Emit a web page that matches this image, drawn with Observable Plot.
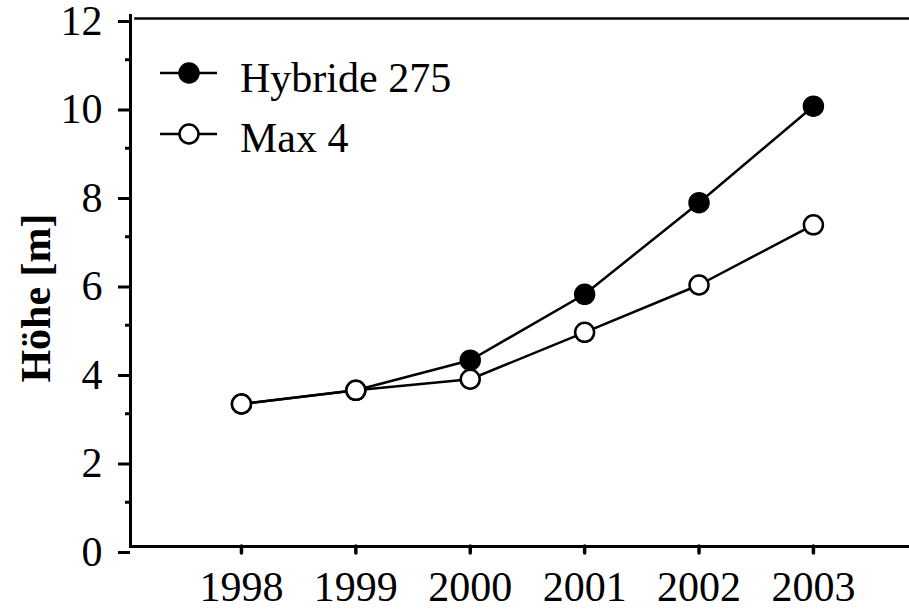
<!DOCTYPE html>
<html>
<head>
<meta charset="utf-8">
<script src="https://cdn.jsdelivr.net/npm/d3@7"></script>
<script src="https://cdn.jsdelivr.net/npm/@observablehq/plot@0.6"></script>
<style>
  html, body { margin: 0; padding: 0; background: #fff; }
  #chart svg { display: block; }
</style>
</head>
<body>
<div id="chart"></div>
<script>
const years = [1998, 1999, 2000, 2001, 2002, 2003];
const hybride = [3.22, 3.53, 4.21, 5.70, 7.77, 9.95];
const max4 = [3.22, 3.53, 3.78, 4.84, 5.91, 7.27];
const seriesNames = ["Hybride 275", "Max 4"];
const seriesFills = ["black", "white"];
const yMajorTicks = [0, 2, 4, 6, 8, 10, 12];
const yMinorTicks = [1, 3, 5, 7, 9, 11];
const yLabel = "Höhe [m]";

const data = years.flatMap((yr, i) => [
  {year: yr, value: hybride[i], series: seriesNames[0]},
  {year: yr, value: max4[i], series: seriesNames[1]}
]);

const FONT = "'Liberation Serif', 'Times New Roman', serif";

function legendMark(index, scales, values, dim) {
  const g = d3.create("svg:g");
  seriesNames.forEach((name, i) => {
    const cy = 73 + i * 61;
    const x0 = dim.marginLeft;
    g.append("line").attr("x1", x0 + 30).attr("x2", x0 + 87)
      .attr("y1", cy).attr("y2", cy).attr("stroke", "black").attr("stroke-width", 2.5);
    g.append("circle").attr("cx", x0 + 59).attr("cy", cy).attr("r", 9.5)
      .attr("fill", seriesFills[i]).attr("stroke", "black").attr("stroke-width", 2.5);
    g.append("text").attr("x", x0 + 110).attr("y", 91.5 + i * 60)
      .attr("text-anchor", "start")
      .attr("font-family", FONT).attr("font-size", 42).attr("fill", "black")
      .text(name);
  });
  return g.node();
}

const chart = Plot.plot({
  width: 909,
  height: 610,
  marginLeft: 130,
  marginRight: 0,
  marginTop: 15,
  marginBottom: 64,
  style: {fontFamily: FONT, fontSize: "42px", color: "black", background: "white", overflow: "visible"},
  x: {domain: [1997.03, 2003.84]},
  y: {domain: [0, 12]},
  marks: [
    Plot.frame({anchor: "left", stroke: "black", strokeWidth: 3}),
    Plot.frame({anchor: "bottom", stroke: "black", strokeWidth: 3}),
    Plot.frame({anchor: "top", stroke: "black", strokeWidth: 2.5, dy: 3, dx: 5}),
    Plot.axisY({ticks: yMajorTicks, tickSize: 12, tickPadding: 16, strokeWidth: 3, dy: 6, label: null, tickFormat: d => String(d)}),
    Plot.axisY({ticks: yMinorTicks, tickSize: 5, strokeWidth: 3, text: null, label: null}),
    Plot.axisX({ticks: years, tickSize: 7, tickPadding: 18, strokeWidth: 3.5, strokeLinecap: "round", label: null, tickFormat: d => String(d)}),
    Plot.text([yLabel], {text: d => d, frameAnchor: "left", rotate: -90, dx: -94, dy: 17,
      fontWeight: "bold", fontSize: 42, textAnchor: "middle", lineAnchor: "middle"}),
    Plot.line(data, {x: "year", y: "value", z: "series", stroke: "black", strokeWidth: 2.5}),
    Plot.dot(data.filter(d => d.series === seriesNames[0]), {x: "year", y: "value", r: 9.5, fill: seriesFills[0], stroke: "black", strokeWidth: 2.5}),
    Plot.dot(data.filter(d => d.series === seriesNames[1]), {x: "year", y: "value", r: 9.5, fill: seriesFills[1], stroke: "black", strokeWidth: 2.5}),
    legendMark
  ]
});
document.getElementById("chart").appendChild(chart);
</script>
</body>
</html>
